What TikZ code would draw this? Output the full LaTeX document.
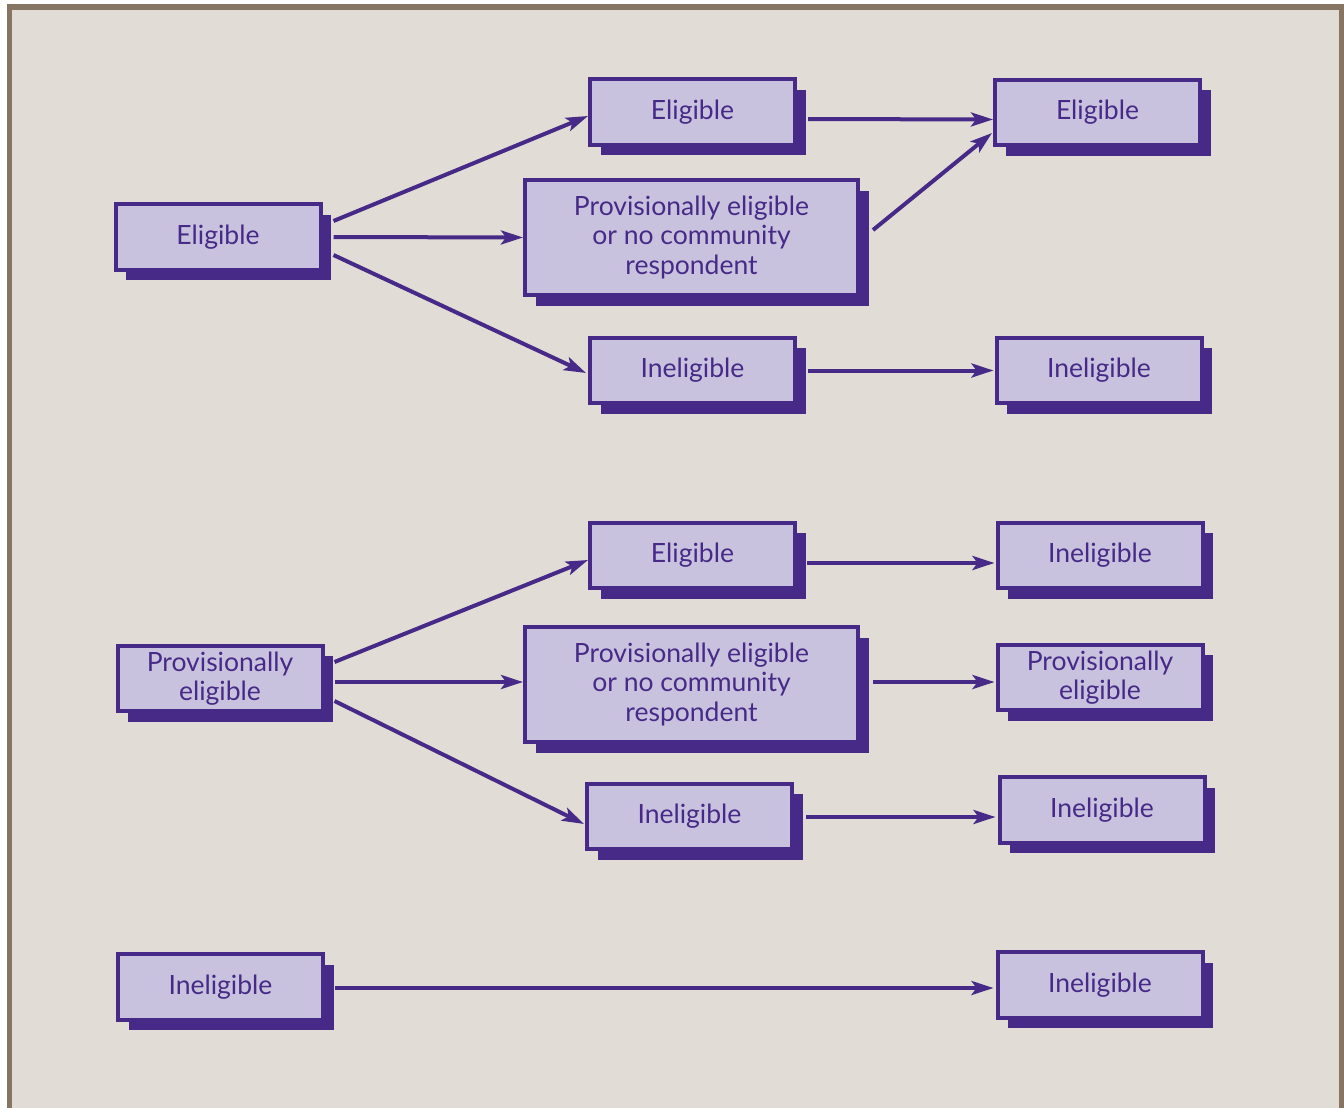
\documentclass[tikz,border=0pt]{standalone}
\usepackage{fontspec}
\setmainfont{Lato}
\usetikzlibrary{arrows.meta,shadows}
\definecolor{dpurple}{HTML}{472A87}
\definecolor{lpurple}{HTML}{C8C2DE}
\definecolor{bgbeige}{HTML}{E1DDD6}
\definecolor{framebrown}{HTML}{877563}
\tikzset{
  box/.style={draw=dpurple, line width=4pt, fill=lpurple, text=dpurple,
    minimum width=205pt, minimum height=65.5pt, align=center, inner sep=2pt,
    font=\fontsize{26.5}{29.5}\selectfont,
    general shadow={fill=dpurple, shadow xshift=10.5pt, shadow yshift=-10.5pt}},
  bigbox/.style={box, minimum width=333pt, minimum height=115pt},
  arr/.style={draw=dpurple, line width=4pt, -{Stealth[length=22pt,width=14pt,inset=5pt]}}
}
\begin{document}
\begin{tikzpicture}[x=1pt,y=-1pt]
\useasboundingbox (0,0) rectangle (1344,1108);
\fill[white] (0,0) rectangle (1344,1108);
\fill[framebrown] (7,4) rectangle (1344,1108);
\fill[bgbeige] (12,10) rectangle (1339,1108);

% group 1
\node[box] (A1) at (218,237) {Eligible};
\node[box] (B1) at (692.5,112) {Eligible};
\node[bigbox] (B2) at (691.5,237.5) {Provisionally eligible\\or no community\\respondent};
\node[box] (B3) at (692.5,370.5) {Ineligible};
\node[box] (C1) at (1097.5,112.5) {Eligible};
\node[box] (C3) at (1099,370.5) {Ineligible};

% group 2
\node[box] (A2) at (220,678.5) {Provisionally\\eligible};
\node[box] (D1) at (692.5,555.5) {Eligible};
\node[bigbox] (D2) at (691.5,684.5) {Provisionally eligible\\or no community\\respondent};
\node[box] (D3) at (689.5,816.5) {Ineligible};
\node[box] (E1) at (1100,555.5) {Ineligible};
\node[box] (E2) at (1100,677.5) {Provisionally\\eligible};
\node[box] (E3) at (1102,810) {Ineligible};

% group 3
\node[box] (A3) at (220.5,987) {Ineligible};
\node[box] (F3) at (1100,985) {Ineligible};

% arrows group 1
\draw[arr] ([xshift=11pt,yshift=16pt]A1.east) -- ([yshift=-4pt]B1.west);
\draw[arr] ([xshift=11pt]A1.east) -- (B2.west);
\draw[arr] ([xshift=11pt,yshift=-18pt]A1.east) -- ([xshift=-2pt,yshift=-2.5pt]B3.west);
\draw[arr] ([xshift=11pt,yshift=-7pt]B1.east) -- ([yshift=-7pt]C1.west);
\draw[arr] ([xshift=13pt,yshift=7.5pt]B2.east) -- ([xshift=-1pt,yshift=-20.5pt]C1.west);
\draw[arr] ([xshift=11pt]B3.east) -- ([xshift=-1pt]C3.west);

% arrows group 2
\draw[arr] ([xshift=10pt,yshift=16.5pt]A2.east) -- ([yshift=-4.5pt]D1.west);
\draw[arr] ([xshift=10pt,yshift=-3.5pt]A2.east) -- ([yshift=2.5pt]D2.west);
\draw[arr] ([xshift=10pt,yshift=-22.5pt]A2.east) -- ([xshift=-1pt,yshift=-7.5pt]D3.west);
\draw[arr] ([xshift=10pt,yshift=-7.5pt]D1.east) -- ([xshift=-1pt,yshift=-7.5pt]E1.west);
\draw[arr] ([xshift=13pt,yshift=2.5pt]D2.east) -- ([xshift=-1pt,yshift=-4.5pt]E2.west);
\draw[arr] ([xshift=12pt,yshift=-0.5pt]D3.east) -- ([xshift=-2pt,yshift=-7pt]E3.west);

% arrow group 3
\draw[arr] ([xshift=10pt,yshift=-1pt]A3.east) -- ([xshift=-2pt,yshift=-3pt]F3.west);
\end{tikzpicture}
\end{document}
